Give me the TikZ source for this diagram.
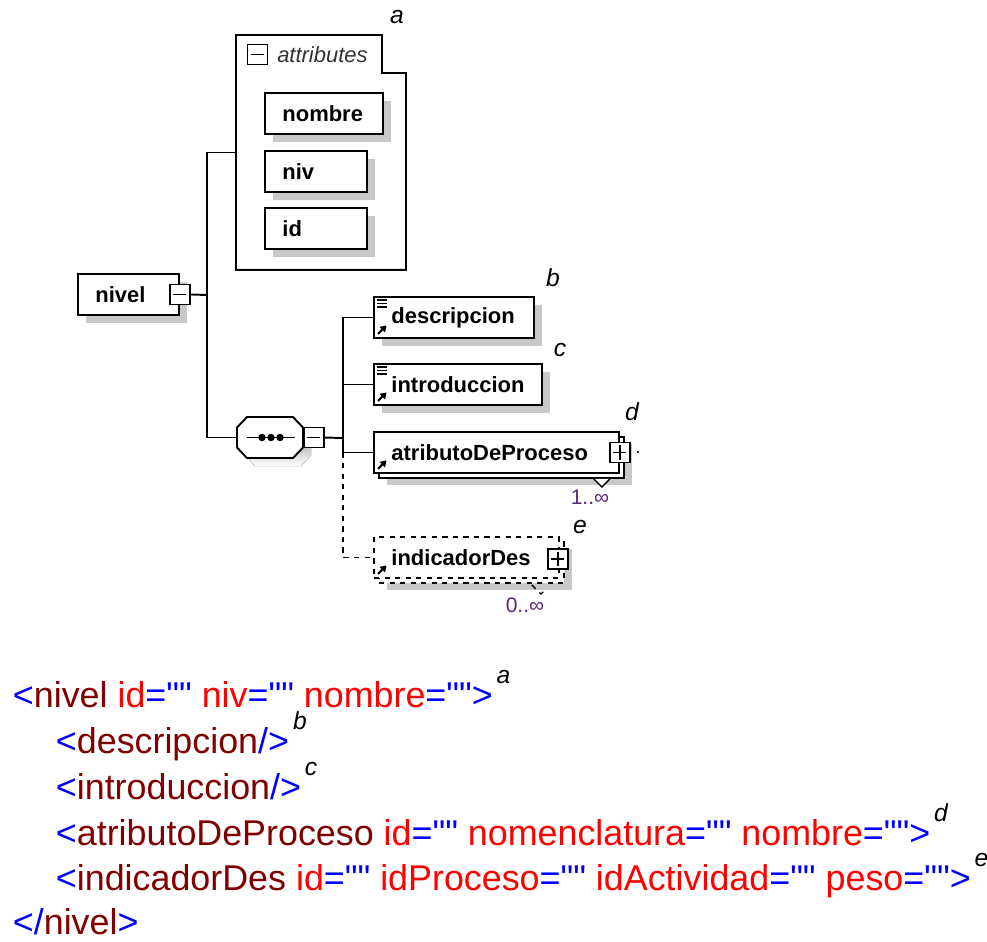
\documentclass[tikz,border=0pt]{standalone}
\usepackage{fontspec}
\setmainfont{Liberation Sans}
\newfontfamily\xmlfont{Liberation Sans}[Ligatures=TeXOff]
\usetikzlibrary{positioning, calc, shadows, arrows.meta}
\definecolor{xmltag}{RGB}{0,0,255}
\definecolor{xmlname}{RGB}{128,0,0}
\definecolor{xmlattr}{RGB}{255,0,0}
\definecolor{shade}{RGB}{200,200,200}
\definecolor{occurs}{RGB}{90,40,120}

\newcommand{\xtag}[1]{\textcolor{xmltag}{#1}}
\newcommand{\xname}[1]{\textcolor{xmlname}{#1}}
\newcommand{\xattr}[1]{\textcolor{xmlattr}{#1}}
% small icons inside the element boxes
\newcommand{\refmark}[1]{\draw[line width=1.2pt, -{Triangle[length=0.12cm, width=0.15cm]}]
  ($(#1.south west)+(0.1cm,0.1cm)$) -- ++(0.17cm,0.17cm);}
\newcommand{\docmark}[1]{\foreach \k in {0,1,2}
  \draw[line width=0.6pt] ($(#1.north west)+(0.08cm,-0.08cm-\k*0.07cm)$) -- ++(0.2cm,0);}
\newcommand{\octpath}{(-23,-20.5) -- (23,-20.5) -- (33,-10) -- (33,10) -- (23,20.5)
  -- (-23,20.5) -- (-33,10) -- (-33,-10) -- cycle}

\begin{document}
\begin{tikzpicture}[x=0.02cm, y=-0.02cm, line width=1.1pt,
  elem/.style={draw, fill=white, anchor=north west, minimum height=0.82cm,
               inner xsep=0.35cm, inner ysep=0, align=left,
               font=\bfseries\fontsize{12.5}{14}\selectfont},
  single/.style={elem, drop shadow={shadow xshift=0.16cm, shadow yshift=-0.16cm,
               fill=shade, draw=none, opacity=1}},
  multi/.style={elem, drop shadow={shadow xshift=0.26cm, shadow yshift=-0.24cm,
               fill=shade, draw=none, opacity=1},
               copy shadow={shadow xshift=0.1cm, shadow yshift=-0.1cm,
               draw=black, fill=white, line width=1.1pt, #1}},
  toggleminus/.style={draw, fill=white, minimum size=0.4cm, inner sep=0, line width=0.9pt,
               path picture={\draw[line width=0.9pt]
               ($(path picture bounding box.west)+(0.07cm,0)$) --
               ($(path picture bounding box.east)+(-0.07cm,0)$);}},
  toggleplus/.style={toggleminus, append after command={
               (\tikzlastnode.north) edge[line width=0.9pt, shorten <=0.07cm, shorten >=0.07cm]
               (\tikzlastnode.south)}},
  occ/.style={font=\fontsize{12}{13}\selectfont, text=occurs, inner sep=0},
  tagletter/.style={font=\itshape\fontsize{14}{16}\selectfont, inner sep=0},
  xmlline/.style={anchor=base west, inner sep=0, font=\xmlfont\fontsize{20.4}{24}\selectfont}
]
\useasboundingbox (0,0) rectangle (987,941);

% attribute group
\node[anchor=north west, minimum width=3.4cm, minimum height=4.7cm, inner sep=0, outer sep=0] (attrs) at (236,35) {};
\draw (attrs.north west) -- ++(146,0) -- ++(0,38) -- ++(24,0) -- (attrs.south east) -- (attrs.south west) -- cycle;
\node[toggleminus] (attrtog) at (257.5,54.5) {};
\node[right=0.16cm of attrtog, inner sep=0, text=black!80,
      font=\itshape\fontsize{12.5}{14}\selectfont] (attrtitle) {attributes};
\node[single, text width=1.66cm] (nombre) at (264,92)  {nombre};
\node[single, text width=1.34cm] (niv)    at (264,150) {niv};
\node[single, text width=1.34cm] (id)     at (264,207) {id};

% root element and sequence
\node[single, text width=1.32cm] (nivel) at (77,273) {nivel};
\node[toggleminus] (niveltog) at (nivel.east) {};
\node[minimum width=1.32cm, minimum height=0.82cm, inner sep=0, outer sep=0] (seq) at (270,437.5) {};
\begin{scope}[shift={(seq.center)}]
  \fill[shade, shift={(8,8)}] \octpath;
  \draw[fill=white] \octpath;
  \draw[line width=1pt] (-23,0) -- (25,0);
  \foreach \d in {-8,1,10} \fill (\d,0) circle (0.075cm);
\end{scope}
\node[toggleminus, right=0pt of seq] (seqtog) {};

% child elements
\node[single, text width=2.5cm]  (desc)  at (373,296) {descripcion};
\node[single, text width=2.66cm] (intro) at (373,363) {introduccion};
\node[multi, text width=4.2cm]   (atrib) at (373,431) {atributoDeProceso};
\node[multi=dashed, dashed, text width=3.0cm] (indic) at (373,536) {indicadorDes};
\node[toggleplus] (atribtog) at (atrib.east) {};
\node[toggleplus] (indictog) at ([shift={(-2,1.5)}]indic.east) {};
\docmark{desc}
\docmark{intro}
\refmark{desc}
\refmark{intro}
\refmark{atrib}
\refmark{indic}

% connectors
\coordinate (spine)  at (207,295);
\coordinate (spine2) at (343,438);
\draw (niveltog.east) -- (spine);
\draw (attrs.west) -| (spine) |- (seq.west);
\draw (seqtog.east) -- (spine2);
\draw (desc.west) -| (spine2) |- (atrib.west);
\draw (intro.west) -- (intro.west -| spine2);
\draw[dashed] (atrib.west -| spine2) |- (indic.west);

% occurrences
\draw[line width=0.8pt, fill=white] ([shift={(-26,5)}]atrib.south east) -- ++(8,8) -- ++(8,-8);
\draw[line width=0.8pt, dashed] ([shift={(-28,6)}]indic.south east) -- ++(9,9) -- ++(6,-5);
\node[occ] (atribocc) at (590,497) {1..∞};
\node[occ] (indicocc) at (525,605) {0..∞};
\node[inner sep=0] (dot) at (638,453) {.};

% letters
\node[tagletter] (la) at (397,17)  {a};
\node[tagletter] (lb) at (553,278) {b};
\node[tagletter] (lc) at (560,350) {c};
\node[tagletter] (ld) at (632,412) {d};
\node[tagletter] (le) at (580,527) {e};

% xml listing
\node[xmlline] (x1) at (12,707) {\xtag{<}\xname{nivel} \xattr{id}\xtag{=""} \xattr{niv}\xtag{=""} \xattr{nombre}\xtag{="">}};
\node[xmlline] (x2) at (55,753) {\xtag{<}\xname{descripcion}\xtag{/>}};
\node[xmlline] (x3) at (55,799) {\xtag{<}\xname{introduccion}\xtag{/>}};
\node[xmlline] (x4) at (55,845) {\xtag{<}\xname{atributoDeProceso} \xattr{id}\xtag{=""} \xattr{nomenclatura}\xtag{=""} \xattr{nombre}\xtag{="">}};
\node[xmlline] (x5) at (55,890) {\xtag{<}\xname{indicadorDes} \xattr{id}\xtag{=""} \xattr{idProceso}\xtag{=""} \xattr{idActividad}\xtag{=""} \xattr{peso}\xtag{="">}};
\node[xmlline] (x6) at (12,934) {\xtag{</}\xname{nivel}\xtag{>}};
\foreach \n/\l in {x1/a, x2/b, x3/c, x4/d, x5/e}
  \node[tagletter, anchor=base west] at ([shift={(2,3)}]\n.north east) {\l};
\end{tikzpicture}
\end{document}
